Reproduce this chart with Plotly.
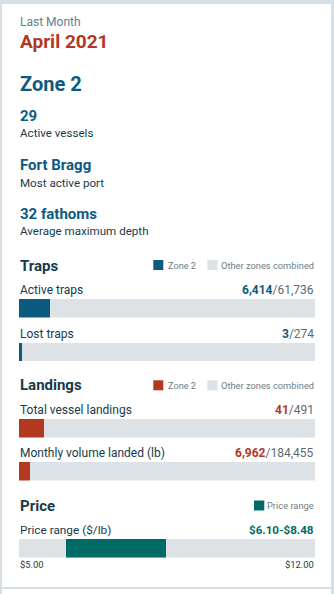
import plotly.graph_objects as go

# ---- data ----
month_label = "April 2021"
zone_name = "Zone 2"
active_vessels = 29
top_port = "Fort Bragg"
avg_max_depth_fathoms = 32

bar_rows = ["Active traps", "Lost traps", "Total vessel landings", "Monthly volume landed (lb)"]
zone_values = [6414, 3, 41, 6962]
all_zone_totals = [61736, 274, 491, 184455]

price_axis = [5.00, 12.00]
price_low = 6.10
price_high = 8.48

# ---- styling ----
W, H = 334, 594
FONT = "Roboto"
BLUE = "#0d5a80"
RED = "#b2381f"
TEAL = "#006b66"
GRAY_BAR = "#dde2e6"
DARK = "#173a4a"
MUTED = "#62808c"
LEGEND_TXT = "#6f7c84"
PAGE_BG = "#d6dfe3"

X0, X1 = 19, 315  # horizontal extent of content in px
row_colors = [BLUE, BLUE, RED, RED]
bar_tops = [299, 342.5, 419, 462, 539]
BAR_H = 18.5


def px(x):
    return x / W


def py(y):
    return 1 - y / H


fig = go.Figure()
annotations = []
shapes = []


def text(x, y, s, size, color, anchor="left", bold=False):
    annotations.append(dict(
        x=px(x), y=py(y), xref="paper", yref="paper",
        xanchor=anchor, yanchor="middle", showarrow=False,
        text=f"<b>{s}</b>" if bold else s,
        font=dict(family=FONT, size=size, color=color),
        borderpad=0,
    ))


# card backgrounds
shapes.append(dict(type="rect", xref="paper", yref="paper",
                   x0=px(2), x1=px(331), y0=py(587), y1=py(4),
                   fillcolor="white", line=dict(width=0), layer="below"))
shapes.append(dict(type="rect", xref="paper", yref="paper",
                   x0=px(2), x1=px(331), y0=py(H + 2), y1=py(589),
                   fillcolor="white", line=dict(width=0), layer="below"))

# header block
text(X0, 21.7, "Last Month", 12, MUTED)
text(X0, 41.3, month_label, 19, RED, bold=True)
text(X0, 83.5, zone_name, 20, BLUE, bold=True)
text(X0, 116, f"{active_vessels}", 15, BLUE, bold=True)
text(X0, 133.5, "Active vessels", 11.6, DARK)
text(X0, 165, top_port, 15, BLUE, bold=True)
text(X0, 182.5, "Most active port", 11.6, DARK)
text(X0, 213.5, f"{avg_max_depth_fathoms} fathoms", 15, BLUE, bold=True)
text(X0, 231.5, "Average maximum depth", 11.6, DARK)


def legend_pair(y, color):
    shapes.append(dict(type="rect", xref="paper", yref="paper",
                       x0=px(153.3), x1=px(163.3), y0=py(y + 5), y1=py(y - 5),
                       fillcolor=color, line=dict(width=0)))
    text(166.7, y, zone_name, 9.2, LEGEND_TXT)
    shapes.append(dict(type="rect", xref="paper", yref="paper",
                       x0=px(207.3), x1=px(217.5), y0=py(y + 5), y1=py(y - 5),
                       fillcolor=GRAY_BAR, line=dict(width=0)))
    text(X1, y, "Other zones combined", 9.3, LEGEND_TXT, anchor="right")


# section titles and legends
text(X0, 265.5, "Traps", 15, DARK, bold=True)
legend_pair(265, BLUE)
text(X0, 385.3, "Landings", 15, DARK, bold=True)
legend_pair(385.3, RED)
text(X0, 505.7, "Price", 15, DARK, bold=True)
shapes.append(dict(type="rect", xref="paper", yref="paper",
                   x0=px(254), x1=px(264.3), y0=py(510.5), y1=py(500.5),
                   fillcolor=TEAL, line=dict(width=0)))
text(X1, 505.5, "Price range", 9.3, LEGEND_TXT, anchor="right")

label_y = [289.5, 333.5, 409.7, 452.8]
layout_axes = {}

# share bars: zone value plus the remainder from other zones
for i, (name, zv, tot, col) in enumerate(zip(bar_rows, zone_values, all_zone_totals, row_colors)):
    k = i + 1
    xa = "x" if k == 1 else f"x{k}"
    ya = "y" if k == 1 else f"y{k}"
    top = bar_tops[i]
    fig.add_trace(go.Bar(x=[zv], y=[0], base=[0], orientation="h", width=1,
                         marker=dict(color=col, line=dict(width=0)),
                         xaxis=xa, yaxis=ya, hoverinfo="skip", showlegend=False))
    fig.add_trace(go.Bar(x=[tot - zv], y=[0], base=[zv], orientation="h", width=1,
                         marker=dict(color=GRAY_BAR, line=dict(width=0)),
                         xaxis=xa, yaxis=ya, hoverinfo="skip", showlegend=False))
    xkey = "xaxis" if k == 1 else f"xaxis{k}"
    ykey = "yaxis" if k == 1 else f"yaxis{k}"
    layout_axes[xkey] = dict(domain=[px(X0), px(X1)], range=[0, tot], visible=False,
                             fixedrange=True, anchor=ya)
    layout_axes[ykey] = dict(domain=[py(top + BAR_H), py(top)], range=[-0.5, 0.5],
                             visible=False, fixedrange=True, anchor=xa)
    text(X0, label_y[i], name, 12, DARK)
    text(X1, label_y[i],
         f"<span style='color:{col}'><b>{zv:,}</b></span>/{tot:,}", 12, "#5c6a72",
         anchor="right")

# price range bar
fig.add_trace(go.Bar(x=[price_axis[1] - price_axis[0]], y=[0], base=[price_axis[0]],
                     orientation="h", width=1, marker=dict(color=GRAY_BAR, line=dict(width=0)),
                     xaxis="x5", yaxis="y5", hoverinfo="skip", showlegend=False))
fig.add_trace(go.Bar(x=[price_high - price_low], y=[0], base=[price_low],
                     orientation="h", width=1, marker=dict(color=TEAL, line=dict(width=0)),
                     xaxis="x5", yaxis="y5", hoverinfo="skip", showlegend=False))
layout_axes["xaxis5"] = dict(domain=[px(X0), px(X1)], range=price_axis, visible=False,
                             fixedrange=True, anchor="y5")
layout_axes["yaxis5"] = dict(domain=[py(bar_tops[4] + BAR_H), py(bar_tops[4])],
                             range=[-0.5, 0.5], visible=False, fixedrange=True, anchor="x5")
text(X0, 529.8, "Price range ($/lb)", 11.8, DARK)
text(X1, 529.8, f"${price_low:.2f}-${price_high:.2f}", 11.6, TEAL, anchor="right", bold=True)
text(X0, 564.8, f"${price_axis[0]:.2f}", 9.4, DARK)
text(X1, 564.8, f"${price_axis[1]:.2f}", 9.4, DARK, anchor="right")

fig.update_layout(
    width=W, height=H,
    margin=dict(l=0, r=0, t=0, b=0),
    paper_bgcolor=PAGE_BG, plot_bgcolor="rgba(0,0,0,0)",
    barmode="overlay", bargap=0,
    showlegend=False,
    annotations=annotations, shapes=shapes,
    **layout_axes,
)

fig.write_html("out.html", config={"displayModeBar": False, "staticPlot": True})
